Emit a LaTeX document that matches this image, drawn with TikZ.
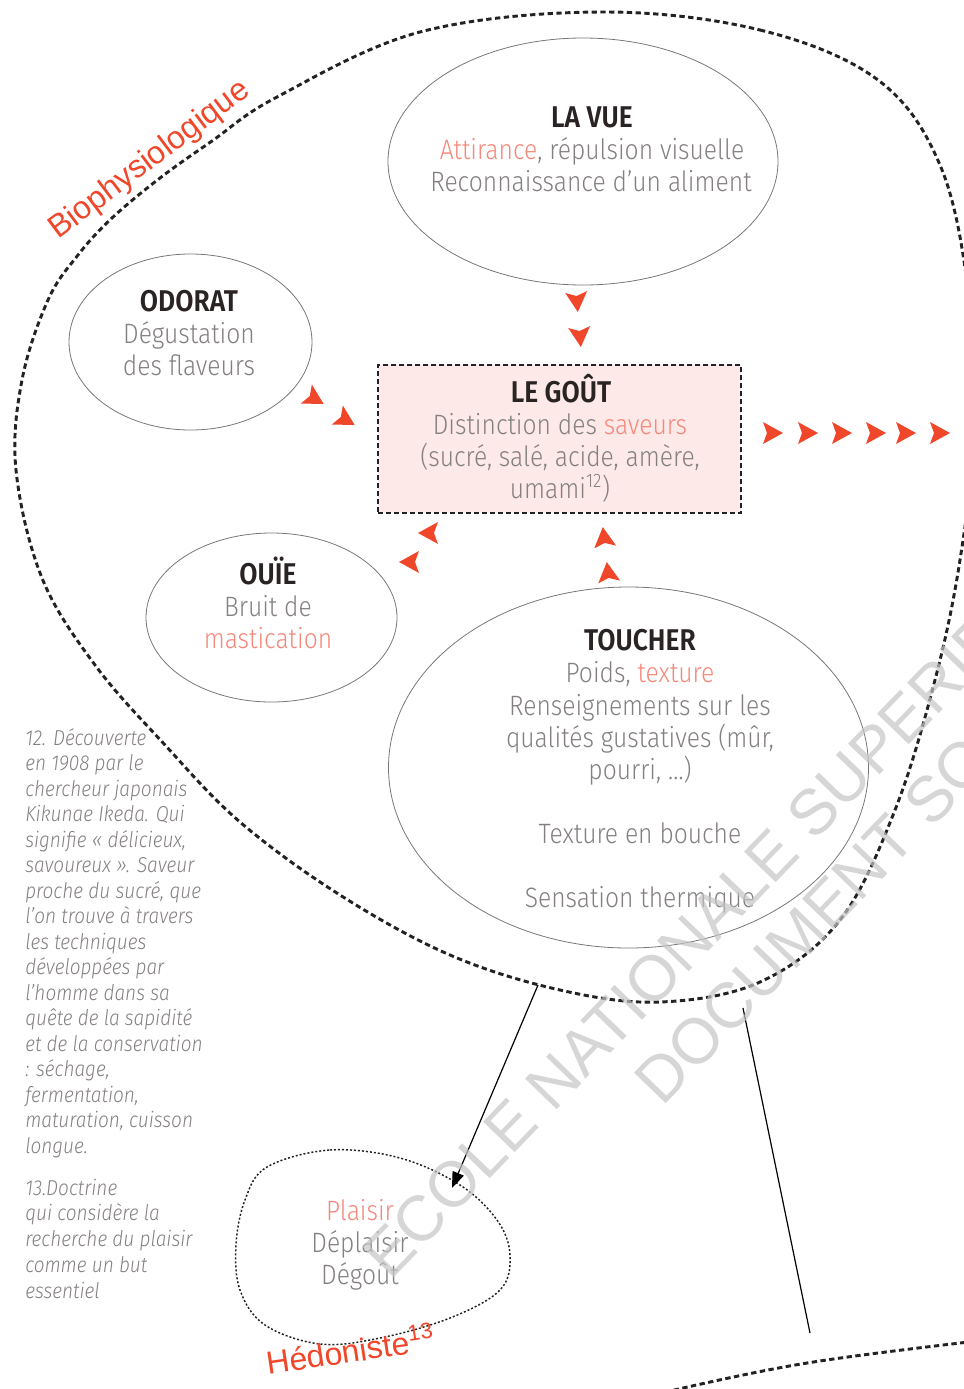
\documentclass[tikz,border=0pt]{standalone}
\usepackage{fontspec}
\setmainfont{Fira Sans Light}[FakeStretch=0.88, ItalicFont={Fira Sans Light Italic}, BoldFont={Fira Sans SemiBold}]
\newfontfamily\labfont{Liberation Sans}
\usetikzlibrary{shapes.geometric,arrows.meta}
\definecolor{redc}{HTML}{F0462A}
\definecolor{salmon}{HTML}{F4897B}
\definecolor{graytxt}{HTML}{858080}
\definecolor{headc}{HTML}{2A2323}
\definecolor{boxfill}{HTML}{FDEAE8}
\definecolor{ellc}{HTML}{777777}
\definecolor{wmc}{HTML}{C4C4C4}
\definecolor{dashc}{HTML}{222222}
\begin{document}
\begin{tikzpicture}[x=0.75pt,y=-0.75pt,
  txt/.style={anchor=base, text=graytxt, inner sep=0pt, font=\fontsize{21pt}{24pt}\selectfont},
  head/.style={anchor=base, text=headc, inner sep=0pt, font=\fontsize{22.5pt}{24pt}\selectfont\bfseries},
  ell/.style={draw=ellc, line width=0.6pt, ellipse, inner sep=0pt},
  fn/.style={anchor=base west, text=graytxt, inner sep=0pt, font=\fontsize{16.2pt}{19pt}\selectfont\itshape},
  bigdash/.style={draw=dashc, line width=2.2pt, dash pattern=on 4pt off 2.6pt},
  smalldash/.style={draw=dashc, line width=1.1pt, dash pattern=on 1.5pt off 1.5pt},
  lab/.style={text=redc, inner sep=0pt, font=\labfont\fontsize{24pt}{26pt}\selectfont},
  wm/.style={text=wmc, text opacity=0.7, inner sep=0pt, anchor=base west, rotate=46, font=\labfont\fontsize{48pt}{50pt}\selectfont},
  redhead/.pic={\fill[redc] (10,0) -- (-10,-11) -- (-6,0) -- (-10,11) -- cycle;}
]
\useasboundingbox (0,0) rectangle (964,1389);
\clip (0,0) rectangle (964,1389);

% big Biophysiologique blob
\draw[bigdash] plot[smooth cycle, tension=0.6] coordinates {
 (600,12) (760,30) (878,80) (940,165) (968,290) (974,430) (960,560) (935,680)
 (895,810) (840,920) (760,982) (660,1002) (560,990) (450,955) (340,895)
 (240,822) (165,745) (95,665) (42,578) (16,470) (22,380) (48,300) (78,255)
 (112,218) (160,178) (212,141) (277,97) (420,32)};

% bottom right blob
\draw[bigdash] plot[smooth, tension=0.6] coordinates {(640,1400) (683,1388) (807,1363) (960,1343) (1000,1340)};

% Hedoniste blob
\draw[smalldash] plot[smooth cycle, tension=0.6] coordinates {
 (267,1167) (330,1150) (400,1158) (460,1185) (497,1220) (510,1255) (500,1290)
 (450,1318) (380,1338) (320,1344) (265,1325) (240,1290) (236,1245) (245,1200)};

% ellipses and box
\node[ell, minimum width=292.5pt, minimum height=185.25pt] (vue) at (583,161.5) {};
\node[ell, minimum width=182.25pt, minimum height=132pt] (odorat) at (190.5,342) {};
\node[ell, minimum width=188.25pt, minimum height=126.75pt] (ouie) at (271.5,617.5) {};
\node[ell, minimum width=360pt, minimum height=270.75pt] (toucher) at (628.5,767.5) {};
\node[draw=dashc, fill=boxfill, line width=1.1pt, dash pattern=on 3.5pt off 2.5pt,
      minimum width=272.25pt, minimum height=111pt, inner sep=0pt] (gout) at (559.5,439) {};

% texts
\node[head] (vueH) at (592,127) {LA VUE};
\node[txt] (vue1) at (592,159) {\textcolor{salmon}{Attirance}, répulsion visuelle};
\node[txt] (vue2) at (591,191) {Reconnaissance d’un aliment};

\node[head] (odoH) at (189,311) {ODORAT};
\node[txt] (odo1) at (189,343) {Dégustation};
\node[txt] (odo2) at (189,375) {des flaveurs};

\node[head] (goutH) at (561,402) {LE GOÛT};
\node[txt] (gout1) at (560,434) {Distinction des \textcolor{salmon}{saveurs}};
\node[txt] (gout2) at (560,466) {(sucré, salé, acide, amère,};
\node[txt] (gout3) at (560,498) {umami\textsuperscript{12})};

\node[head] (ouiH) at (268,584) {OUÏE};
\node[txt] (oui1) at (268,616) {Bruit de};
\node[txt, text=salmon] (oui2) at (268,648) {mastication};

\node[head] (touH) at (640,650) {TOUCHER};
\node[txt] (tou1) at (640,682) {Poids, \textcolor{salmon}{texture}};
\node[txt] (tou2) at (640,715) {Renseignements sur les};
\node[txt] (tou3) at (640,747) {qualités gustatives (mûr,};
\node[txt] (tou4) at (640,779) {pourri, …)};
\node[txt] (tou5) at (640,843) {Texture en bouche};
\node[txt] (tou6) at (640,907) {Sensation thermique};

\node[txt, text=salmon] (hed1) at (360,1220) {Plaisir};
\node[txt] (hed2) at (360,1252) {Déplaisir};
\node[txt] (hed3) at (360,1284) {Dégoût};

% labels
\node[lab, anchor=base west, rotate=37] (bio) at (58,240) {Biophysiologique};
\node[lab, anchor=base west, rotate=8.5] (hed) at (268,1375) {Hédoniste\textsuperscript{13}};

% footnotes
\foreach \t [count=\i] in {{12. Découverte},{en 1908 par le},{chercheur japonais},{Kikunae Ikeda. Qui},
 {signifie « délicieux,},{savoureux ». Saveur},{proche du sucré, que},{l’on trouve à travers},
 {les techniques},{développées par},{l’homme dans sa},{quête de la sapidité},
 {et de la conservation},{: séchage,},{fermentation,},{maturation, cuisson},{longue.}}
 {\node[fn] (fnA\i) at (25,{745+25.5*(\i-1)}) {\t};}
\foreach \t [count=\i] in {{13.Doctrine},{qui considère la},{recherche du plaisir},{comme un but},{essentiel}}
 {\node[fn] (fnB\i) at (25,{1195+25.75*(\i-1)}) {\t};}

% red arrowheads
\pic[rotate=-85] at (577,302) {redhead};
\pic[rotate=-85] at (580,337) {redhead};
\pic[rotate=-30] at (315,399) {redhead};
\pic[rotate=-30] at (346,420) {redhead};
\pic[rotate=180] at (428,533) {redhead};
\pic[rotate=180] at (409,562) {redhead};
\pic[rotate=97] at (604,537) {redhead};
\pic[rotate=97] at (608,572) {redhead};
\foreach \xx in {773,808,842,876,906,940} {\pic at (\xx,433) {redhead};}

% connectors
\coordinate (bioOut) at (538,985);
\coordinate (hedIn) at (452,1188);
\draw[line width=0.9pt, -{Triangle[length=12pt,width=9pt]}] (bioOut) -- (hedIn);
\coordinate (lineA) at (743,1008);
\coordinate (lineB) at (810,1333);
\draw[line width=0.9pt] (lineA) -- (lineB);

% watermark
\node[wm] (wm1) at (390,1282) {ECOLE NATIONALE SUPERIEURE};
\node[wm] (wm2) at (662,1108) {DOCUMENT SOUMIS};
\end{tikzpicture}
\end{document}
